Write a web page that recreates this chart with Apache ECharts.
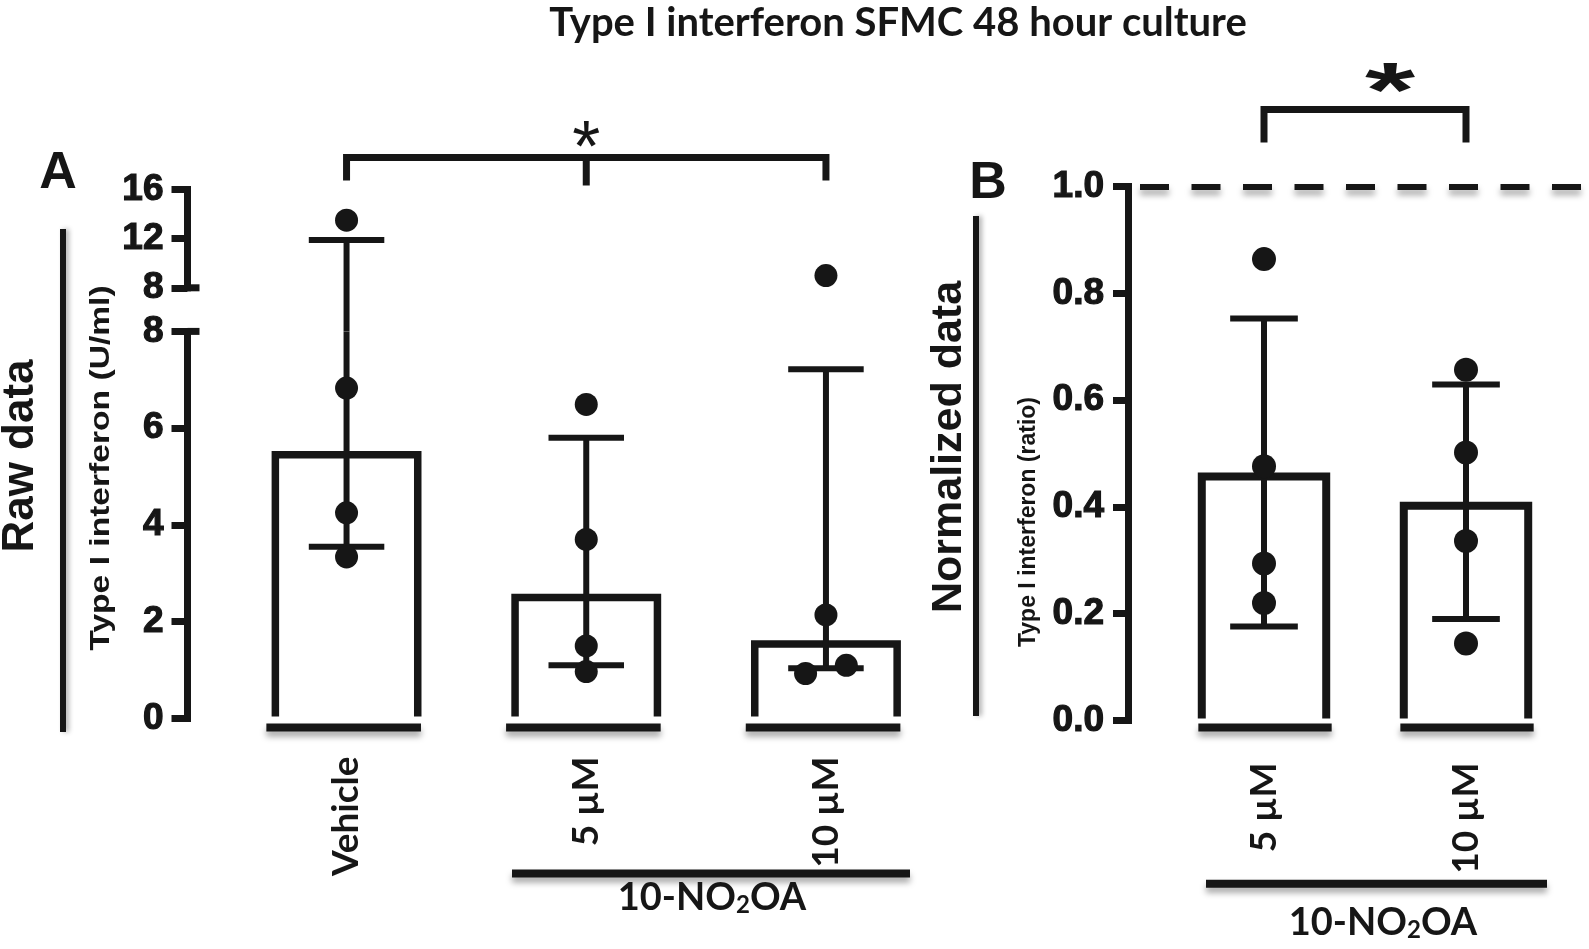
<!DOCTYPE html>
<html><head><meta charset="utf-8">
<script src="https://cdn.jsdelivr.net/npm/echarts@6/dist/echarts.min.js"></script>
<style>html,body{margin:0;padding:0;background:#fff}#c{width:1589px;height:949px}</style>
</head><body><div id="c"></div>
<script>
// ---------------- data ----------------
const categoriesA = ['Vehicle', '5 µM', '10 µM'];
const barValuesA = [5.45, 2.50, 1.54];
const errorLowA = [3.55, 1.10, 1.04];
const errorHighA = [11.9, 5.80, 7.22];
const pointsA = [[13.5, 6.83, 4.25, 3.34], [6.49, 3.70, 1.50, 0.97], [9.0, 2.14, 0.93, 1.10]];
const yTicksAUpper = [8, 12, 16];
const yTicksALower = [0, 2, 4, 6, 8];

const categoriesB = ['5 µM', '10 µM'];
const barValuesB = [0.457, 0.402];
const errorLowB = [0.176, 0.190];
const errorHighB = [0.753, 0.629];
const pointsB = [[0.864, 0.476, 0.294, 0.220], [0.657, 0.502, 0.336, 0.144]];
const yTicksB = [0, 0.2, 0.4, 0.6, 0.8, 1.0];
const referenceB = 1.0;

const groupLabel = '10-NO{s|2}OA';
const titleText = 'Type I interferon SFMC 48 hour culture';

// ---------------- layout / style ----------------
const pointJitterA = [[0, 0, 0, 0], [0, 0, 0, 0], [0, 0, -0.085, 0.085]];
const INK = '#161616';
const SHADOW = {shadowColor: 'rgba(0,0,0,0.35)', shadowBlur: 6, shadowOffsetY: 5};
const A_LEFT = 226.7, A_W = 719.1;
const A_UP_TOP = 189.5, A_UP_H = 98.3;
const A_LO_TOP = 331.4, A_LO_H = 387.1;
const A_AXIS_X = 187.5;
const A_GAP = A_LO_TOP - (A_UP_TOP + A_UP_H);
const B_LEFT = 1163, B_W = 404, B_TOP = 186.5, B_H = 534;
const B_AXIS_X = 1128;
const NUM_FONT = 'Liberation Sans';
const LBL_FONT = 'Lato';

function barRender(ratio, lw) {
  return function (params, api) {
    const i = api.value(0), v = api.value(1);
    const p0 = api.coord([i, 0]), p1 = api.coord([i, v]);
    const h = api.size([1, 0])[0] * ratio / 2;
    return {type: 'polyline', shape: {points: [[p0[0] - h, p0[1] - 2], [p0[0] - h, p1[1]], [p0[0] + h, p1[1]], [p0[0] + h, p0[1] - 2]]},
      style: {stroke: INK, lineWidth: lw, fill: null, lineJoin: 'miter'}};
  };
}
function baseRender(ratio, lw, drop, shift) {
  return function (params, api) {
    const i = api.value(0);
    const p0 = api.coord([i, 0]);
    const bw = api.size([1, 0])[0];
    const h = bw * ratio / 2;
    const cx = p0[0] + shift * bw;
    return {type: 'line', shape: {x1: cx - h, y1: p0[1] + drop, x2: cx + h, y2: p0[1] + drop},
      style: Object.assign({stroke: INK, lineWidth: lw}, SHADOW)};
  };
}
function errRender(capRatio, lw, axisMax, drawUpperCapOnly, gapBelow) {
  return function (params, api) {
    const i = api.value(0), lo = api.value(1), hi = api.value(2);
    const bw = api.size([1, 0])[0];
    const ch = bw * capRatio / 2;
    const children = [];
    const st = {stroke: INK, lineWidth: lw};
    if (drawUpperCapOnly) {
      const pHi = api.coord([i, hi]);
      const pBase = api.coord([i, axisMax]);
      children.push({type: 'line', shape: {x1: pHi[0], y1: pHi[1], x2: pHi[0], y2: pBase[1] + gapBelow}, style: st});
      children.push({type: 'line', shape: {x1: pHi[0] - ch, y1: pHi[1], x2: pHi[0] + ch, y2: pHi[1]}, style: st});
    } else {
      const top = Math.min(hi, axisMax);
      const pLo = api.coord([i, lo]), pHi = api.coord([i, top]);
      children.push({type: 'line', shape: {x1: pLo[0], y1: pLo[1], x2: pHi[0], y2: pHi[1]}, style: st});
      children.push({type: 'line', shape: {x1: pLo[0] - ch, y1: pLo[1], x2: pLo[0] + ch, y2: pLo[1]}, style: st});
      if (hi <= axisMax) children.push({type: 'line', shape: {x1: pHi[0] - ch, y1: pHi[1], x2: pHi[0] + ch, y2: pHi[1]}, style: st});
    }
    return {type: 'group', children};
  };
}
function pointRender(r) {
  return function (params, api) {
    const i = api.value(0), v = api.value(1), j = api.value(2);
    const p = api.coord([i, v]);
    const bw = api.size([1, 0])[0];
    return {type: 'circle', shape: {cx: p[0] + j * bw, cy: p[1], r: r}, style: {fill: INK}};
  };
}
function bracketRender(refVal, lift, leg, midLeg, lw, star) {
  return function (params, api) {
    const a = api.value(0), b = api.value(1);
    const pa = api.coord([a, refVal]), pb = api.coord([b, refVal]);
    const y = pa[1] - lift;
    const st = {stroke: INK, lineWidth: lw, fill: null, lineJoin: 'miter'};
    const ch = [{type: 'polyline', shape: {points: [[pa[0], y + leg], [pa[0], y], [pb[0], y], [pb[0], y + leg]]}, style: st}];
    const mx = (pa[0] + pb[0]) / 2;
    if (midLeg > 0) ch.push({type: 'line', shape: {x1: mx, y1: y, x2: mx, y2: y + midLeg}, style: st});
    ch.push({type: 'text', x: mx + star.dx, y: y + star.dy, scaleX: star.sx, style: {text: '*', fontSize: star.size, fontWeight: star.weight, fontFamily: NUM_FONT, fill: INK, align: 'center', verticalAlign: 'middle'}});
    return {type: 'group', children: ch};
  };
}

const splitPts = (pts, jit, test) => {
  const out = [];
  pts.forEach((arr, i) => arr.forEach((v, k) => { if (test(v)) out.push([i, v, jit ? jit[i][k] : 0]); }));
  return out;
};
const upperMinA = yTicksAUpper[0];

const axisLineStyle = {show: true, lineStyle: {color: INK, width: 7, cap: 'square'}};
const yLabel = (m) => ({fontSize: 37, fontWeight: 'bold', fontFamily: NUM_FONT, color: INK, margin: m, textBorderColor: INK, textBorderWidth: 1.2});
const xLabel = (m) => ({rotate: 90, fontSize: 37, fontWeight: 'bold', fontFamily: LBL_FONT, color: INK, margin: m});
const groupStyle = (x, y) => ({type: 'text', x: x, y: y, style: {text: groupLabel, fontSize: 38, fontWeight: 'bold', fontFamily: LBL_FONT, fill: INK, align: 'center', verticalAlign: 'middle',
  rich: {s: {fontSize: 24, fontWeight: 'bold', fontFamily: LBL_FONT, fill: INK, verticalAlign: 'bottom', lineHeight: 12}}}});

const option = {
  backgroundColor: '#fff',
  animation: false,
  grid: [
    {left: A_LEFT, top: A_UP_TOP, width: A_W, height: A_UP_H, outerBoundsMode: 'none'},
    {left: A_LEFT, top: A_LO_TOP, width: A_W, height: A_LO_H, outerBoundsMode: 'none'},
    {left: B_LEFT, top: B_TOP, width: B_W, height: B_H, outerBoundsMode: 'none'}
  ],
  xAxis: [
    {gridIndex: 0, type: 'category', data: categoriesA, show: false},
    {gridIndex: 1, type: 'category', data: categoriesA, axisLine: {show: false}, axisTick: {show: false}, axisLabel: xLabel(38)},
    {gridIndex: 2, type: 'category', data: categoriesB, axisLine: {show: false}, axisTick: {show: false}, axisLabel: xLabel(42)}
  ],
  yAxis: [
    {gridIndex: 0, type: 'value', min: yTicksAUpper[0], max: yTicksAUpper[yTicksAUpper.length - 1], interval: yTicksAUpper[1] - yTicksAUpper[0],
      offset: A_LEFT - A_AXIS_X, axisLine: axisLineStyle, axisTick: {show: true, length: 16, lineStyle: {color: INK, width: 7}}, axisLabel: yLabel(24), splitLine: {show: false}},
    {gridIndex: 1, type: 'value', min: yTicksALower[0], max: yTicksALower[yTicksALower.length - 1], interval: yTicksALower[1] - yTicksALower[0],
      offset: A_LEFT - A_AXIS_X, axisLine: axisLineStyle, axisTick: {show: true, length: 16, lineStyle: {color: INK, width: 7}}, axisLabel: yLabel(24), splitLine: {show: false}},
    {gridIndex: 2, type: 'value', min: yTicksB[0], max: yTicksB[yTicksB.length - 1], interval: 0.2,
      offset: B_LEFT - B_AXIS_X, axisLine: axisLineStyle, axisTick: {show: true, length: 15, lineStyle: {color: INK, width: 7}},
      axisLabel: Object.assign(yLabel(24), {formatter: v => v.toFixed(1)}), splitLine: {show: false}}
  ],
  series: [
    // Panel A bars
    {type: 'custom', xAxisIndex: 1, yAxisIndex: 1, z: 2, renderItem: barRender(0.594, 7.5), data: barValuesA.map((v, i) => [i, v])},
    {type: 'custom', xAxisIndex: 1, yAxisIndex: 1, z: 2, renderItem: baseRender(0.645, 8, 9, -0.012), data: categoriesA.map((c, i) => [i])},
    {type: 'custom', xAxisIndex: 1, yAxisIndex: 1, z: 3, renderItem: errRender(0.315, 6, upperMinA, false, 0), data: errorLowA.map((v, i) => [i, v, errorHighA[i]])},
    {type: 'custom', xAxisIndex: 0, yAxisIndex: 0, z: 3, renderItem: errRender(0.315, 6, upperMinA, true, A_GAP),
      data: errorLowA.map((v, i) => [i, v, errorHighA[i]]).filter(d => d[2] > upperMinA)},
    {type: 'custom', xAxisIndex: 1, yAxisIndex: 1, z: 4, renderItem: pointRender(11.5), data: splitPts(pointsA, pointJitterA, v => v <= upperMinA)},
    {type: 'custom', xAxisIndex: 0, yAxisIndex: 0, z: 4, renderItem: pointRender(11.5), data: splitPts(pointsA, pointJitterA, v => v > upperMinA)},
    {type: 'custom', xAxisIndex: 0, yAxisIndex: 0, z: 4, renderItem: bracketRender(yTicksAUpper[yTicksAUpper.length - 1], 32, 23, 28, 7, {dx: 0, dy: -6.5, size: 72, weight: 'normal', sx: 1}), data: [[0, categoriesA.length - 1]]},
    // Panel B
    {type: 'custom', xAxisIndex: 2, yAxisIndex: 2, z: 2, renderItem: barRender(0.616, 8), data: barValuesB.map((v, i) => [i, v]),
      markLine: {silent: true, symbol: 'none', label: {show: false},
        lineStyle: Object.assign({color: INK, width: 6, type: [29, 22.5]}, SHADOW),
        data: [[{x: 1140, yAxis: referenceB}, {x: 1581, yAxis: referenceB}]]}},
    {type: 'custom', xAxisIndex: 2, yAxisIndex: 2, z: 2, renderItem: baseRender(0.66, 8, 7, 0.005), data: categoriesB.map((c, i) => [i])},
    {type: 'custom', xAxisIndex: 2, yAxisIndex: 2, z: 3, renderItem: errRender(0.335, 6, 99, false, 0), data: errorLowB.map((v, i) => [i, v, errorHighB[i]])},
    {type: 'custom', xAxisIndex: 2, yAxisIndex: 2, z: 4, renderItem: pointRender(12), data: splitPts(pointsB, null, v => true)},
    {type: 'custom', xAxisIndex: 2, yAxisIndex: 2, z: 4, renderItem: bracketRender(referenceB, 77, 33, 0, 7, {dx: 25, dy: -14, size: 78, weight: 'bold', sx: 1.65}), data: [[0, categoriesB.length - 1]]}
  ],
  graphic: [
    {type: 'text', x: 898, y: 23, style: {text: titleText, fontSize: 40, fontWeight: 'bold', fontFamily: LBL_FONT, fill: INK, align: 'center', verticalAlign: 'middle'}},
    {type: 'text', x: 58, y: 174, style: {text: 'A', fontSize: 52, fontWeight: 'bold', fontFamily: NUM_FONT, fill: INK, align: 'center', verticalAlign: 'middle'}},
    {type: 'text', x: 988, y: 184, style: {text: 'B', fontSize: 52, fontWeight: 'bold', fontFamily: NUM_FONT, fill: INK, align: 'center', verticalAlign: 'middle'}},
    {type: 'text', x: 21, y: 456, rotation: Math.PI / 2, style: {text: 'Raw data', fontSize: 44, fontWeight: 'bold', fontFamily: NUM_FONT, fill: INK, align: 'center', verticalAlign: 'middle'}},
    {type: 'text', x: 949, y: 447, rotation: Math.PI / 2, style: {text: 'Normalized data', fontSize: 43, fontWeight: 'bold', fontFamily: NUM_FONT, fill: INK, align: 'center', verticalAlign: 'middle'}},
    {type: 'text', x: 101, y: 468, rotation: Math.PI / 2, scaleX: 1.2, style: {text: 'Type I interferon (U/ml)', fontSize: 28, fontWeight: 'bold', fontFamily: NUM_FONT, fill: INK, align: 'center', verticalAlign: 'middle'}},
    {type: 'text', x: 1029, y: 522, rotation: Math.PI / 2, style: {text: 'Type I interferon (ratio)', fontSize: 23, fontWeight: 'bold', fontFamily: NUM_FONT, fill: INK, align: 'center', verticalAlign: 'middle'}},
    {type: 'line', shape: {x1: 63, y1: 229, x2: 63, y2: 732}, style: {stroke: INK, lineWidth: 6, shadowColor: 'rgba(0,0,0,0.3)', shadowBlur: 5, shadowOffsetX: 3}},
    {type: 'line', shape: {x1: 976, y1: 216, x2: 976, y2: 716}, style: {stroke: INK, lineWidth: 6, shadowColor: 'rgba(0,0,0,0.3)', shadowBlur: 5, shadowOffsetX: 3}},
    {type: 'line', shape: {x1: 512, y1: 873.5, x2: 910, y2: 873.5}, style: Object.assign({stroke: INK, lineWidth: 8}, SHADOW)},
    {type: 'line', shape: {x1: 1206, y1: 883.7, x2: 1547, y2: 883.7}, style: Object.assign({stroke: INK, lineWidth: 8}, SHADOW)},
    groupStyle(712, 898),
    groupStyle(1383, 923),
    // axis break marks
    {type: 'line', shape: {x1: A_AXIS_X, y1: A_UP_TOP + A_UP_H, x2: A_AXIS_X + 12, y2: A_UP_TOP + A_UP_H}, style: {stroke: INK, lineWidth: 7}},
    {type: 'line', shape: {x1: A_AXIS_X, y1: A_LO_TOP, x2: A_AXIS_X + 12, y2: A_LO_TOP}, style: {stroke: INK, lineWidth: 7}}
  ]
};
const chart = echarts.init(document.getElementById('c'), null, {renderer: 'canvas'});
chart.setOption(option);
</script></body></html>
